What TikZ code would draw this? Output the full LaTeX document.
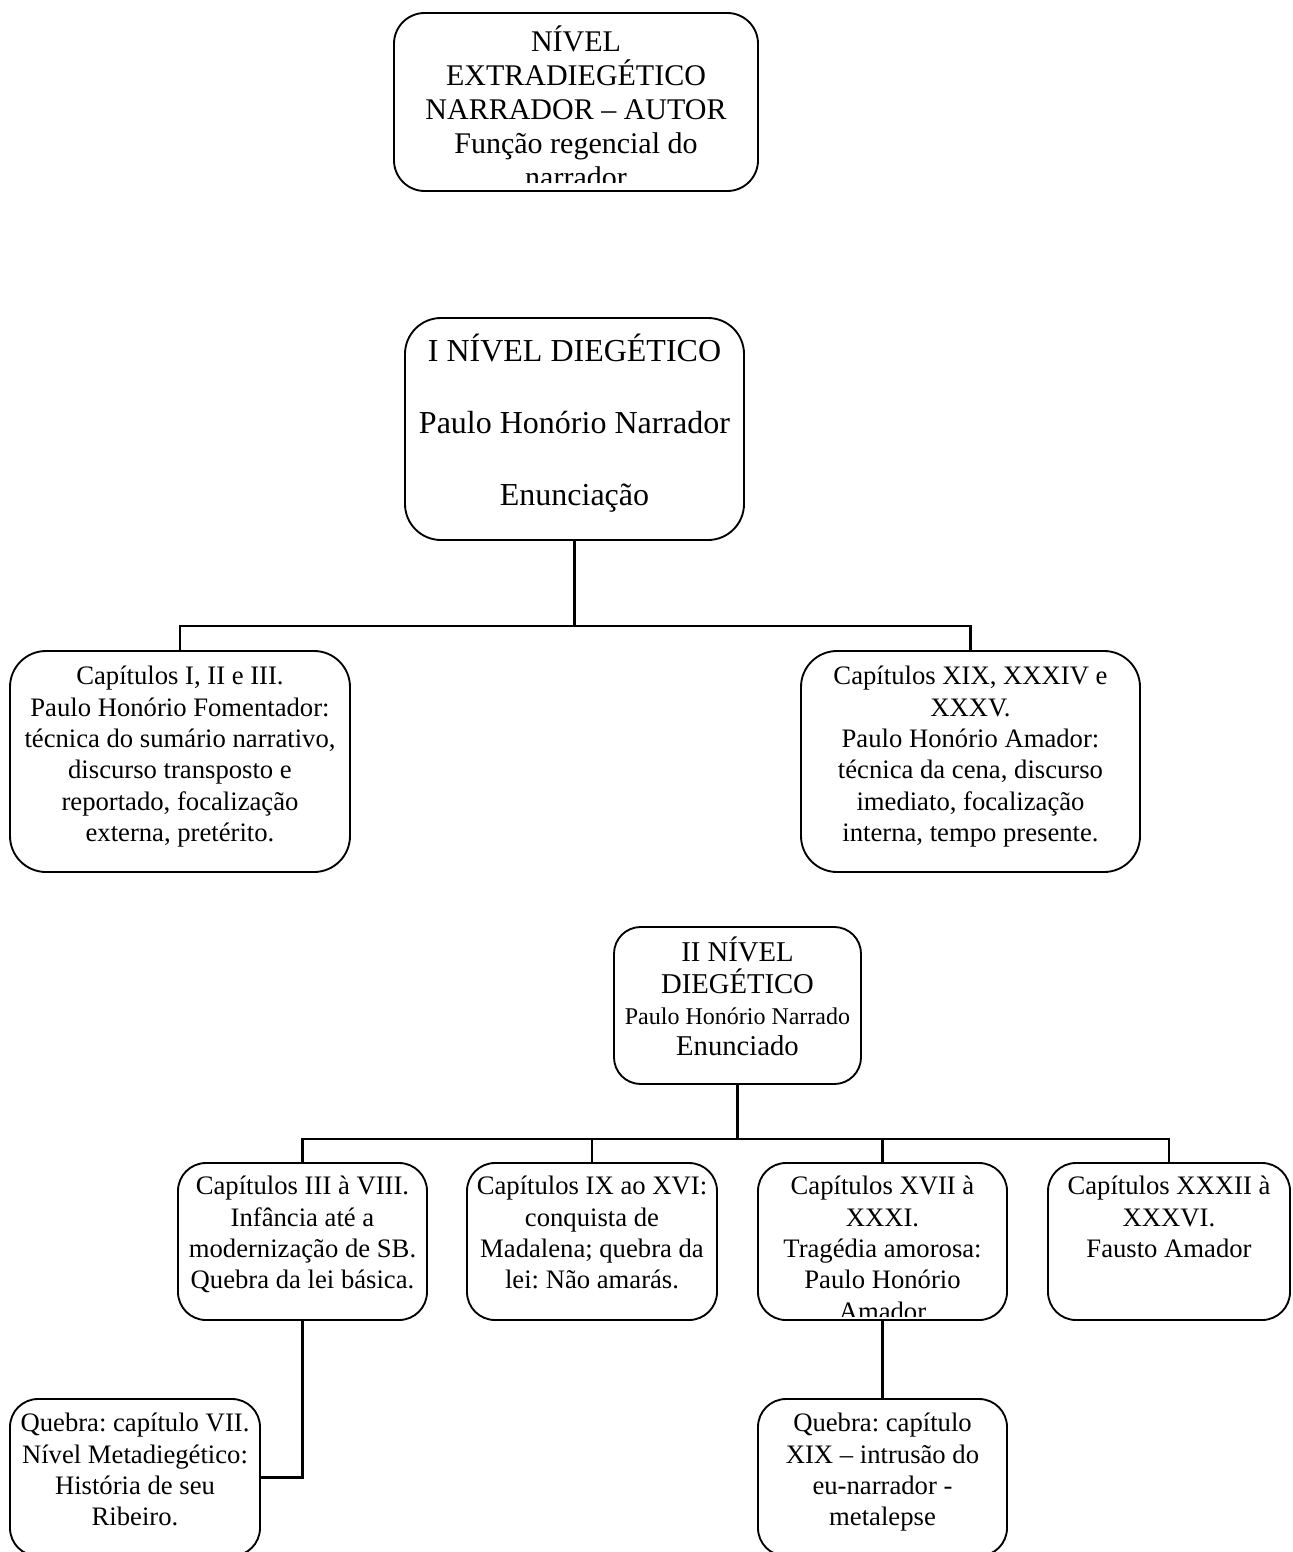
\documentclass[tikz,border=0pt]{standalone}
\usepackage{fontspec}
\setmainfont{Liberation Serif}
\usetikzlibrary{fit}
\frenchspacing
\newcommand{\fsTop}{\fontsize{22.5}{25.5}\selectfont}
\newcommand{\fsOne}{\fontsize{24}{27}\selectfont}
\newcommand{\fsTwo}{\fontsize{21.5}{23.5}\selectfont}
\newcommand{\fsReg}{\fontsize{20}{23.5}\selectfont}
\newcommand{\fsSmall}{\fontsize{18}{23.5}\selectfont}
\newcommand{\lineone}{\rule{0pt}{1em}}
\tikzset{
  box/.style={draw, line width=1.4pt, inner sep=0pt, rounded corners=#1},
  box/.default=21pt,
  txt/.style={align=center, inner sep=0pt, anchor=north},
  link/.style={line width=1.8pt}
}
\begin{document}
\begin{tikzpicture}[x=0.75pt, y=-0.75pt]
\useasboundingbox (0,0) rectangle (1292,1552);
% extradiegetic level
\node[box=23pt, fit={(394,13) (758,191)}] (extra) {};
\begin{scope}
\clip (394,13) rectangle (758,182);
\node[txt, font=\fsTop] (extratxt) at (576,21) {\lineone NÍVEL\\EXTRADIEGÉTICO\\NARRADOR – AUTOR\\Função regencial do\\narrador};
\end{scope}
% first diegetic level
\node[box=27pt, fit={(405,318) (744,540)}] (dieg1) {};
\node[txt, font=\fsOne] (dieg1txt) at (574.5,329) {\lineone I NÍVEL DIEGÉTICO\\[27pt]Paulo Honório Narrador\\[27pt]Enunciação};
\node[box=27pt, fit={(10,651) (350,872)}] (cap1) {};
\node[txt, font=\fsReg] (cap1txt) at (180,658) {\lineone Capítulos I, II e III.\\Paulo Honório Fomentador:\\técnica do sumário narrativo,\\discurso transposto e\\reportado, focalização\\externa, pretérito.};
\node[box=27pt, fit={(801,651) (1140,872)}] (cap2) {};
\node[txt, font=\fsReg] (cap2txt) at (970.5,658) {\lineone Capítulos XIX, XXXIV e\\XXXV.\\Paulo Honório Amador:\\técnica da cena, discurso\\imediato, focalização\\interna, tempo presente.};
% second diegetic level
\node[box=20pt, fit={(614,927) (861,1084)}] (dieg2) {};
\node[txt, font=\fsTwo] (dieg2txt) at (737.5,933) {\lineone II NÍVEL\\DIEGÉTICO\\{\fsSmall Paulo Honório Narrado}\\Enunciado};
\node[box, fit={(178,1163) (427,1320)}] (cap3) {};
\node[txt, font=\fsReg] (cap3txt) at (302.5,1168) {\lineone Capítulos III à VIII.\\Infância até a\\modernização de SB.\\Quebra da lei básica.};
\node[box, fit={(467,1163) (717,1320)}] (cap9) {};
\node[txt, font=\fsReg] (cap9txt) at (592,1168) {\lineone Capítulos IX ao XVI:\\conquista de\\Madalena; quebra da\\lei: Não amarás.};
\node[box, fit={(758,1163) (1007,1320)}] (cap17) {};
\begin{scope}
\clip (758,1163) rectangle (1007,1316);
\node[txt, font=\fsReg] (cap17txt) at (882.5,1168) {\lineone Capítulos XVII à\\XXXI.\\Tragédia amorosa:\\Paulo Honório\\Amador};
\end{scope}
\node[box, fit={(1048,1163) (1290,1320)}] (cap32) {};
\node[txt, font=\fsReg] (cap32txt) at (1169,1168) {\lineone Capítulos XXXII à\\XXXVI.\\Fausto Amador};
% breaks
\node[box, fit={(10,1399) (260,1556)}] (break7) {};
\node[txt, font=\fsReg] (break7txt) at (135,1405) {\lineone Quebra: capítulo VII.\\Nível Metadiegético:\\História de seu\\Ribeiro.};
\node[box, fit={(758,1399) (1007,1556)}] (break19) {};
\node[txt, font=\fsReg] (break19txt) at (882.5,1405) {\lineone Quebra: capítulo\\XIX – intrusão do\\eu-narrador -\\metalepse};
% connectors
\coordinate (fork1) at (574.5,626);
\coordinate (fork2) at (737.5,1139);
\draw[link] (dieg1.south) -- (fork1);
\draw[link] (cap1.north) |- (fork1) -| (cap2.north);
\draw[link] (dieg2.south) -- (fork2);
\draw[link] (cap3.north) |- (fork2) -| (cap32.north);
\draw[link] (cap9.north) -- (cap9.north |- fork2);
\draw[link] (cap17.north) -- (cap17.north |- fork2);
\draw[link] (cap3.south) |- (break7.east);
\draw[link] (cap17.south) -- (break19.north);
\end{tikzpicture}
\end{document}
